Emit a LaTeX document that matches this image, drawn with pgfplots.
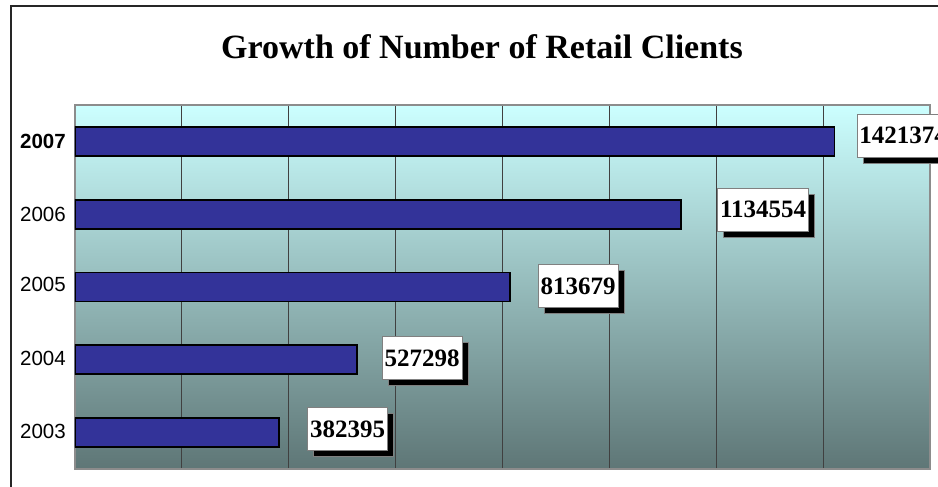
\documentclass[border=0pt]{standalone}
\usepackage{fontspec}
\setmainfont{Liberation Serif}
\newfontfamily\arial{Liberation Sans}
\usepackage{pgfplots}
\usepackage{pgfplotstable}
\pgfplotsset{compat=1.18}
\usetikzlibrary{shadows}
\definecolor{barblue}{RGB}{51,51,153}
\definecolor{bgtop}{RGB}{204,255,255}
\definecolor{bgbot}{RGB}{94,118,118}

\pgfplotstableread{
y x lab dx dy
0 382395 382395 28 3.5
1 527298 527298 25 1.5
2 813679 813679 28 1
3 1134554 1134554 36 4.5
4 1421374 1421374 22 6
}\clients

\begin{document}
\begin{tikzpicture}[x=1pt,y=1pt]
\useasboundingbox (0,0) rectangle (938,487);
\clip (0,0) rectangle (938,487);
\fill[white] (0,0) rectangle (938,487);
\draw[line width=1.5pt, black!85] (11,-10) -- (11,481) -- (950,481);
\node[font=\fontsize{34}{38}\selectfont\bfseries] at (482,440) {Growth of Number of Retail Clients};
\begin{axis}[
  at={(75pt,18pt)}, anchor=south west,
  scale only axis, width=855pt, height=364pt,
  xmin=0, xmax=1600000, ymin=-0.5, ymax=4.5,
  scaled x ticks=false,
  xtick={0,200000,...,1600000}, xticklabels={},
  xmajorgrids, major grid style={black!75, line width=0.8pt},
  ytick={0,1,2,3,4},
  yticklabels={\raisebox{3pt}{2003},\raisebox{3.5pt}{2004},\raisebox{5pt}{2005},\raisebox{-10pt}{2006},\raisebox{-3pt}{\bfseries 2007}},
  yticklabel style={font=\fontsize{20.5}{24}\selectfont\arial, inner sep=0pt, xshift=-9pt},
  major tick length=0pt,
  axis line style={draw=gray!90, line width=2pt},
  axis background/.style={shade, top color=bgtop, bottom color=bgbot},
  xbar, bar width=29pt,
  point meta=explicit symbolic,
  visualization depends on={\thisrow{dx}\as\dx},
  visualization depends on={\thisrow{dy}\as\dy},
  nodes near coords,
  every node near coord/.append style={anchor=west, fill=white, draw=gray, line width=0.6pt,
    font=\fontsize{25}{27}\selectfont\bfseries, inner xsep=2.5pt, minimum height=43pt,
    drop shadow={shadow xshift=6pt, shadow yshift=-6pt, fill=black, opacity=1},
    xshift=\dx pt, yshift=\dy pt},
]
\addplot[draw=black, fill=barblue, line width=1.8pt] table[x=x, y=y, meta=lab] {\clients};
\end{axis}
\end{tikzpicture}
\end{document}
